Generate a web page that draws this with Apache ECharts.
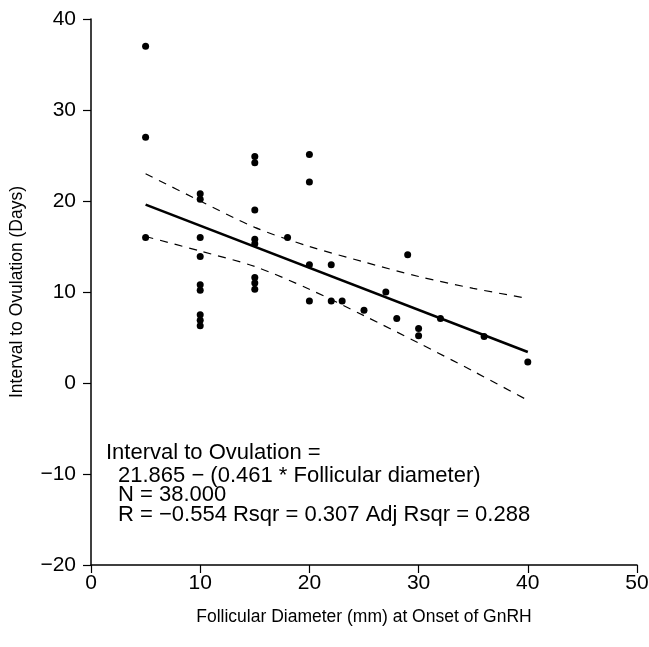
<!DOCTYPE html>
<html>
<head>
<meta charset="utf-8">
<script src="https://cdn.jsdelivr.net/npm/echarts@6/dist/echarts.min.js"></script>
<style>
  html, body { margin: 0; padding: 0; background: #fff; }
  #main { width: 649px; height: 647px; }
</style>
</head>
<body>
<div id="main"></div>
<script>
// 散点数据：卵泡直径 (mm) 与 排卵间隔 (天)
const diameter = [5, 5, 5,
  10, 10, 10, 10, 10, 10, 10, 10, 10,
  15, 15, 15, 15, 15, 15, 15, 15,
  18, 20, 20, 20, 20, 22, 22, 23, 25, 27, 28, 29, 30, 30, 32, 36, 40];
const interval = [37.0, 27.0, 16.0,
  20.8, 20.2, 16.0, 13.9, 10.8, 10.2, 7.5, 6.9, 6.3,
  24.9, 24.2, 19.0, 15.8, 15.3, 11.6, 11.0, 10.3,
  16.0, 25.1, 22.1, 13.0, 9.0, 13.0, 9.0, 9.0, 8.0, 10.0, 7.1, 14.1, 6.0, 5.2, 7.1, 5.1, 2.3];

// 回归线端点
const fitX = [5, 40];
const fitY = [19.6, 3.4];

// 95% 置信带
const bandX = [5, 10, 15, 20, 25, 30, 35, 40];
const bandUpper = [23.0, 20.0, 17.1, 15.0, 13.3, 11.7, 10.4, 9.3];
const bandLower = [16.1, 14.5, 12.8, 10.3, 7.4, 4.4, 1.3, -1.9];

const annotation = [
  'Interval to Ovulation =',
  '21.865 \u2212 (0.461 * Follicular diameter)',
  'N = 38.000',
  'R = \u22120.554 Rsqr = 0.307 Adj Rsqr = 0.288'
];

const font = 'Liberation Sans';
const zip = (xs, ys) => xs.map((x, i) => [x, ys[i]]);
const minus = v => String(v).replace('-', '\u2212');

var myChart = echarts.init(document.getElementById('main'));

const option = {
    animation: false,
    grid: { left: 91, right: 12, top: 19, bottom: 82, outerBoundsMode: 'none', containLabel: false },
    xAxis: {
        type: 'value',
        min: 0, max: 50, interval: 10,
        name: 'Follicular Diameter (mm) at Onset of GnRH',
        nameLocation: 'middle',
        nameGap: 43,
        nameTextStyle: { color: '#000', fontSize: 17.5, fontFamily: font },
        axisLine: { onZero: false, lineStyle: { color: '#000', width: 1.5 } },
        axisTick: { length: 8, lineStyle: { color: '#000', width: 1.2 } },
        axisLabel: { color: '#000', fontSize: 21, fontFamily: font, margin: 8 },
        splitLine: { show: false }
    },
    yAxis: {
        type: 'value',
        min: -20, max: 40, interval: 10,
        name: 'Interval to Ovulation (Days)',
        nameLocation: 'middle',
        nameGap: 65,
        nameTextStyle: { color: '#000', fontSize: 17.5, fontFamily: font },
        axisLine: { show: true, onZero: false, lineStyle: { color: '#000', width: 1.5 } },
        axisTick: { show: true, length: 8, lineStyle: { color: '#000', width: 1.2 } },
        axisLabel: { color: '#000', fontSize: 21, fontFamily: font, margin: 15, formatter: minus },
        splitLine: { show: false }
    },
    series: [
        {
            type: 'scatter',
            data: zip(diameter, interval),
            symbolSize: 7,
            itemStyle: { color: '#000', opacity: 1 },
            z: 5
        },
        {
            type: 'line',
            data: zip(fitX, fitY),
            symbol: 'none',
            lineStyle: { color: '#000', width: 2.6 }
        },
        {
            type: 'line',
            data: zip(bandX, bandUpper),
            symbol: 'none',
            smooth: 0.3,
            lineStyle: { color: '#000', width: 1.2, type: [8, 7] }
        },
        {
            type: 'line',
            data: zip(bandX, bandLower),
            symbol: 'none',
            smooth: 0.3,
            lineStyle: { color: '#000', width: 1.2, type: [8, 7] }
        }
    ],
    graphic: annotation.map((t, i) => ({
        type: 'text',
        left: [106, 118, 118, 118][i],
        top: [442, 465, 484, 504][i],
        style: { text: t, fill: '#000', font: '22px "' + font + '"' }
    }))
};

myChart.setOption(option);
</script>
</body>
</html>
